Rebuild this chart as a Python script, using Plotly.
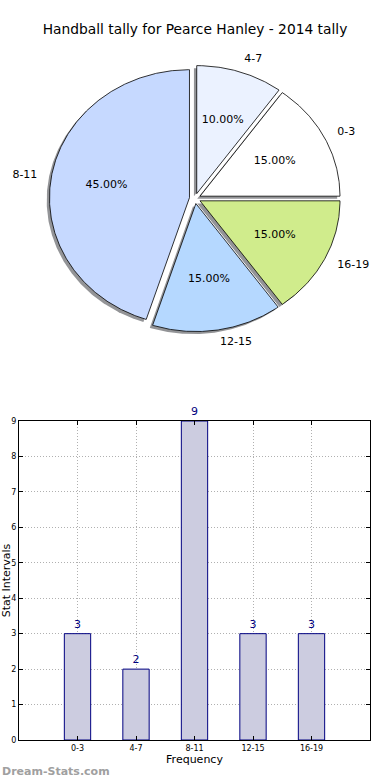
import numpy as np
import plotly.graph_objects as go

# ---------------- data ----------------
chart_title = "Handball tally for Pearce Hanley - 2014 tally"
categories = ["0-3", "4-7", "8-11", "12-15", "16-19"]
counts = [3, 2, 9, 3, 3]
pie_colors = ["#FFFFFF", "#EBF2FF", "#C6D9FF", "#B5D8FF", "#D0EC8C"]
x_title = "Frequency"
y_title = "Stat Intervals"
watermark = "Dream-Stats.com"
y_ticks = list(range(0, 10))

# ---------------- style / layout constants ----------------
W, H = 390, 780
FONT = "DejaVu Sans"
bar_fill = "#CCCCE0"
bar_edge = "#000080"
explode = 0.04
shadow_dx, shadow_dy = -0.02, -0.02
label_dist, pct_dist = 1.1, 0.6
# pie placement in pixels (elliptical, as in the reference)
PCX, PCY, RX, RY = 195.0, 198.5, 140.0, 128.0
PIE_TOP, PIE_BOTTOM = 0.0, 390.0
# bar axes box in pixels
BX0, BX1, BY0, BY1 = 19.0, 370.0, 421.0, 740.0

fig = go.Figure()

# ---------------- pie (wedges built from the values) ----------------
total = float(sum(counts))
fracs = [c / total for c in counts]
wedges = []
acc = 0.0
for lab, f, col in zip(categories, fracs, pie_colors):
    t1, t2 = acc * 360.0, (acc + f) * 360.0
    acc += f
    mid = np.deg2rad((t1 + t2) / 2.0)
    ox, oy = explode * np.cos(mid), explode * np.sin(mid)
    th = np.deg2rad(np.linspace(t1, t2, max(int((t2 - t1) * 2), 12)))
    xs = np.concatenate([[ox], ox + np.cos(th), [ox]])
    ys = np.concatenate([[oy], oy + np.sin(th), [oy]])
    wedges.append(dict(lab=lab, f=f, col=col, mid=mid, ox=ox, oy=oy, xs=xs, ys=ys))

# shadows (under all wedges)
for w in wedges:
    fig.add_trace(go.Scatter(
        x=w["xs"] + shadow_dx, y=w["ys"] + shadow_dy, xaxis="x2", yaxis="y2",
        mode="lines", fill="toself", fillcolor="rgba(40,42,48,0.5)",
        line=dict(width=0), hoverinfo="skip", showlegend=False))

for w in wedges:
    fig.add_trace(go.Scatter(
        x=w["xs"], y=w["ys"], xaxis="x2", yaxis="y2",
        mode="lines", fill="toself", fillcolor=w["col"],
        line=dict(color="black", width=0.8), hoverinfo="skip", showlegend=False))

# outer labels
lx = [w["ox"] + label_dist * np.cos(w["mid"]) for w in wedges]
ly = [w["oy"] + label_dist * np.sin(w["mid"]) for w in wedges]
lpos = ["middle right" if np.cos(w["mid"]) > 0 else "middle left" for w in wedges]
fig.add_trace(go.Scatter(
    x=lx, y=ly, xaxis="x2", yaxis="y2", mode="text",
    text=[w["lab"] for w in wedges], textposition=lpos,
    textfont=dict(family=FONT, size=11, color="black"),
    hoverinfo="skip", showlegend=False))

# percentage labels
px_ = [w["ox"] + pct_dist * np.cos(w["mid"]) for w in wedges]
py_ = [w["oy"] + pct_dist * np.sin(w["mid"]) for w in wedges]
fig.add_trace(go.Scatter(
    x=px_, y=py_, xaxis="x2", yaxis="y2", mode="text",
    text=["%.2f%%" % (w["f"] * 100) for w in wedges], textposition="middle center",
    textfont=dict(family=FONT, size=11, color="black"),
    hoverinfo="skip", showlegend=False))

# ---------------- bar chart ----------------
fig.add_trace(go.Bar(
    x=categories, y=counts, width=0.45,
    marker=dict(color=bar_fill, line=dict(color=bar_edge, width=1)),
    text=[str(c) for c in counts], textposition="outside", cliponaxis=False,
    outsidetextfont=dict(family=FONT, size=11, color=bar_edge),
    hoverinfo="skip", showlegend=False))

grid = dict(showgrid=True, gridcolor="#b0b0b0", griddash="1px,2px", gridwidth=1)
fig.update_layout(
    width=W, height=H, autosize=False,
    margin=dict(l=0, r=0, t=0, b=0),
    paper_bgcolor="white", plot_bgcolor="white",
    font=dict(family=FONT, color="black"),
    title=dict(text=chart_title, x=0.5, xanchor="center",
               y=1 - 29.0 / H, yanchor="middle", yref="paper",
               font=dict(family=FONT, size=13.8, color="black")),
    xaxis=dict(domain=[BX0 / W, BX1 / W], anchor="y", type="category",
               range=[-1, len(categories)], showline=True, linecolor="black",
               linewidth=1, mirror="ticks", ticks="inside", ticklen=4,
               tickcolor="black", tickfont=dict(family=FONT, size=8),
               title=dict(text=x_title, font=dict(family=FONT, size=11), standoff=2),
               zeroline=False, automargin=False, **grid),
    yaxis=dict(domain=[1 - BY1 / H, 1 - BY0 / H], anchor="x", range=[0, 9],
               tickvals=y_ticks, showline=True, linecolor="black", linewidth=1,
               mirror="ticks", ticks="inside", ticklen=4, tickcolor="black",
               tickfont=dict(family=FONT, size=8),
               title=dict(text=y_title, font=dict(family=FONT, size=11), standoff=2),
               zeroline=False, automargin=False, **grid),
    xaxis2=dict(domain=[0, 1], anchor="y2",
                range=[-PCX / RX, (W - PCX) / RX], visible=False, fixedrange=True),
    yaxis2=dict(domain=[1 - PIE_BOTTOM / H, 1 - PIE_TOP / H], anchor="x2",
                range=[-(PIE_BOTTOM - PCY) / RY, (PCY - PIE_TOP) / RY],
                visible=False, fixedrange=True),
    annotations=[dict(text="<b>" + watermark + "</b>", x=0, y=0, xref="paper", yref="paper",
                      xanchor="left", yanchor="bottom", showarrow=False,
                      font=dict(family=FONT, size=11, color="#a0a0a0"))],
)

fig.write_html("out.html", config={"displayModeBar": False},
               post_script="document.body.style.margin='0px';document.body.style.overflow='hidden';")
